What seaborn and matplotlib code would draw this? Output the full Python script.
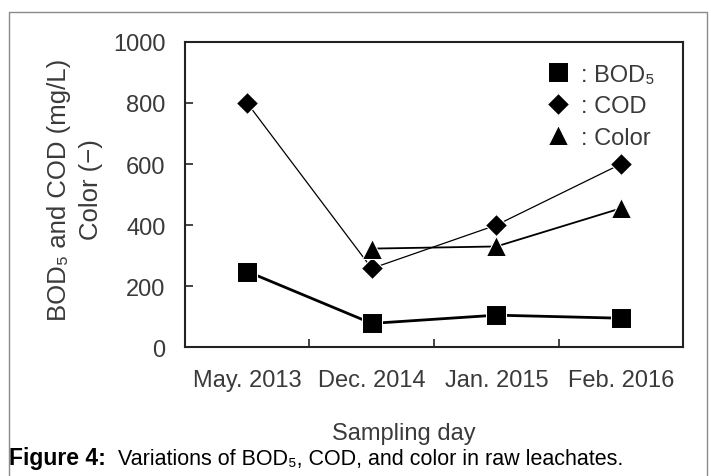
import matplotlib
matplotlib.use("Agg")
import matplotlib.pyplot as plt
from matplotlib.patches import Rectangle
import numpy as np
import pandas as pd
import seaborn as sns

# data
days = ["May. 2013", "Dec. 2014", "Jan. 2015", "Feb. 2016"]
bod5 = [248, 78, 105, 95]
cod = [800, 258, 400, 600]
color = [np.nan, 323, 330, 455]

sns.set_style("white")
plt.rcParams["font.family"] = ["Liberation Sans", "DejaVu Sans"]

df = pd.DataFrame({"day": days, "BOD5": bod5, "COD": cod, "Color": color})

fig = plt.figure(figsize=(7.11, 4.77), dpi=100)
ax = fig.add_axes([0.260, 0.270, 0.701, 0.640])

txt = "#3a3a3a"
sns.lineplot(data=df, x="day", y="BOD5", ax=ax, color="black", lw=2.0,
             marker="s", markersize=15, label=": BOD\u2085", sort=False)
sns.lineplot(data=df, x="day", y="COD", ax=ax, color="black", lw=0.9,
             marker="D", markersize=11.5, label=": COD", sort=False)
sns.lineplot(data=df.dropna(), x="day", y="Color", ax=ax, color="black", lw=1.3,
             marker="^", markersize=15, label=": Color", sort=False)

ax.set_xlim(-0.5, len(days) - 0.5)
ax.set_ylim(0, 1000)
ax.set_yticks(range(0, 1001, 200))
ax.set_xticks(range(len(days)))
ax.set_xticklabels(days)
ax.set_xticks(np.arange(0.5, len(days) - 1, 1.0), minor=True)
ax.tick_params(axis="x", which="major", length=0, pad=16, labelsize=17, labelcolor=txt)
ax.tick_params(axis="x", which="minor", direction="in", length=6, width=1.2, bottom=True)
ax.tick_params(axis="y", direction="in", length=6, width=1.2, left=True, pad=14,
               labelsize=17, labelcolor=txt)
for s in ax.spines.values():
    s.set_color("#222222")
    s.set_linewidth(1.5)

ax.set_xlabel("Sampling day", fontsize=17, color=txt)
ax.xaxis.set_label_coords(0.44, -0.245)
ax.set_ylabel("BOD\u2085 and COD (mg/L)\nColor (\u2212)", fontsize=18.5, color=txt,
              linespacing=1.4)
ax.yaxis.set_label_coords(-0.165, 0.52)

leg = ax.legend(loc="upper right", frameon=False, handlelength=0.9, handletextpad=0.5,
                labelspacing=0.4, fontsize=17, borderaxespad=0.2,
                bbox_to_anchor=(0.97, 0.975))
for t in leg.get_texts():
    t.set_color(txt)
for h in leg.legend_handles:
    h.set_linestyle("none")

# outer frame of the figure panel
fig.patches.append(Rectangle((0.013, -0.05), 0.982, 1.023, transform=fig.transFigure,
                             fill=False, edgecolor="#8a8a8a", lw=1.0))

fig.text(0.012, 0.025, "Figure 4:", fontsize=16.5, fontweight="bold", color="black")
fig.text(0.166, 0.025, "Variations of BOD\u2085, COD, and color in raw leachates.",
         fontsize=15.5, color="black")

fig.savefig("out.png", dpi=100)
